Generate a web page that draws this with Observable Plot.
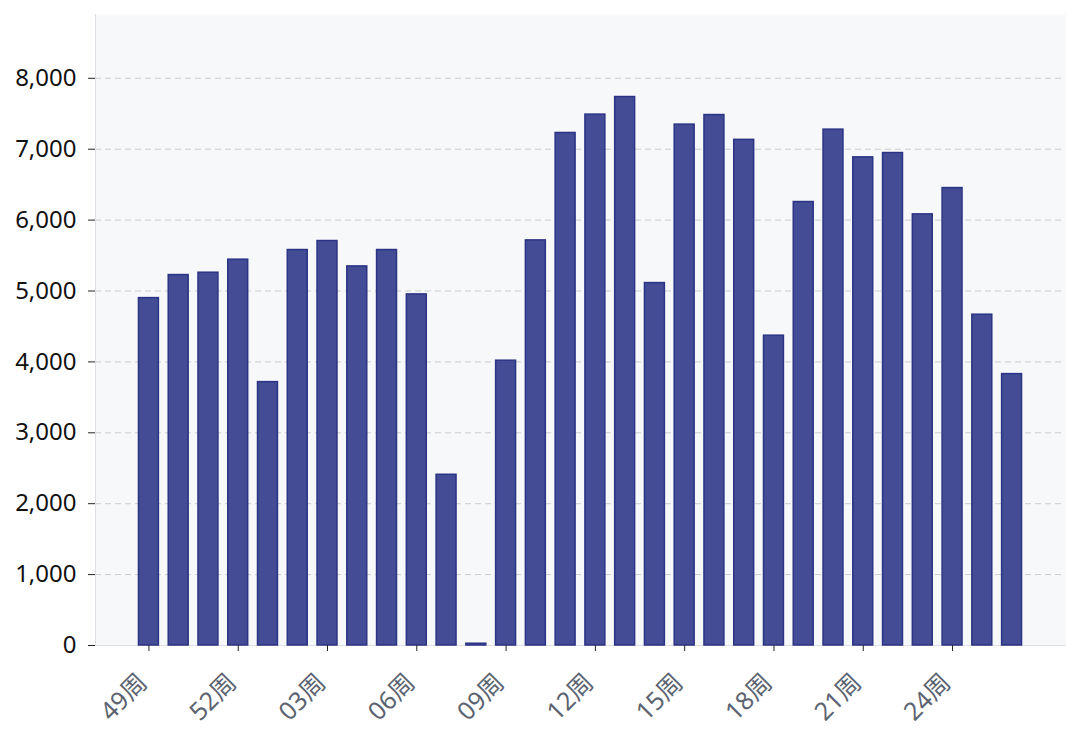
<!DOCTYPE html>
<html><head><meta charset="utf-8">
<script src="https://cdn.jsdelivr.net/npm/d3@7"></script>
<script src="https://cdn.jsdelivr.net/npm/@observablehq/plot@0.6"></script>
<style>body{margin:0;background:#fff;}</style>
</head><body><div id="chart"></div>
<script>
const weeks = ["49周","50周","51周","52周","01周","02周","03周","04周","05周","06周","07周","08周","09周","10周","11周","12周","13周","14周","15周","16周","17周","18周","19周","20周","21周","22周","23周","24周","25周","26周"];
const values = [4900,5225,5258,5442,3715,5578,5705,5347,5578,4952,2408,25,4017,5714,7229,7488,7736,5112,7347,7482,7132,4370,6255,7276,6885,6946,6081,6452,4666,3828];
const xTickLabels = ["49周","52周","03周","06周","09周","12周","15周","18周","21周","24周"];
const yTicks = [0,1000,2000,3000,4000,5000,6000,7000,8000];
const data = weeks.map((w, i) => ({week: w, value: values[i]}));

const chart = Plot.plot({
  width: 1080, height: 734,
  marginLeft: 95, marginRight: 15, marginTop: 14, marginBottom: 89,
  style: {fontFamily: "'Noto Sans', 'Noto Sans CJK SC', sans-serif", fontSize: "23px", background: "#fff"},
  x: {domain: weeks, paddingInner: 0.33, paddingOuter: 1.46, round: false, label: null},
  y: {domain: [0, 8900], label: null},
  marks: [
    Plot.frame({fill: "#f7f8fa", stroke: null}),
    Plot.gridY(yTicks, {stroke: "#c9cdd3", strokeOpacity: 1, strokeDasharray: "6,4"}),
    Plot.frame({anchor: "left", stroke: "#dcdfe3"}),
    Plot.frame({anchor: "bottom", stroke: "#dcdfe3"}),
    Plot.barY(data, {x: "week", y: "value", fill: "#434c94", stroke: "#2c3485", strokeWidth: 1.5}),
    Plot.axisY({ticks: yTicks, tickFormat: d3.format(","), tickSize: 7, tickPadding: 12, fontSize: 24, stroke: "#222", fill: "#111", label: null}),
    Plot.axisX({ticks: xTickLabels, tickFormat: () => "", tickSize: 6, stroke: "#222", label: null}),
    Plot.axisX({ticks: xTickLabels, tickRotate: -45, tickSize: 0, tickPadding: 33, dx: -6, fontSize: 25, fill: "#5c6370", label: null})
  ]
});
document.getElementById("chart").append(chart);
</script>
</body></html>
